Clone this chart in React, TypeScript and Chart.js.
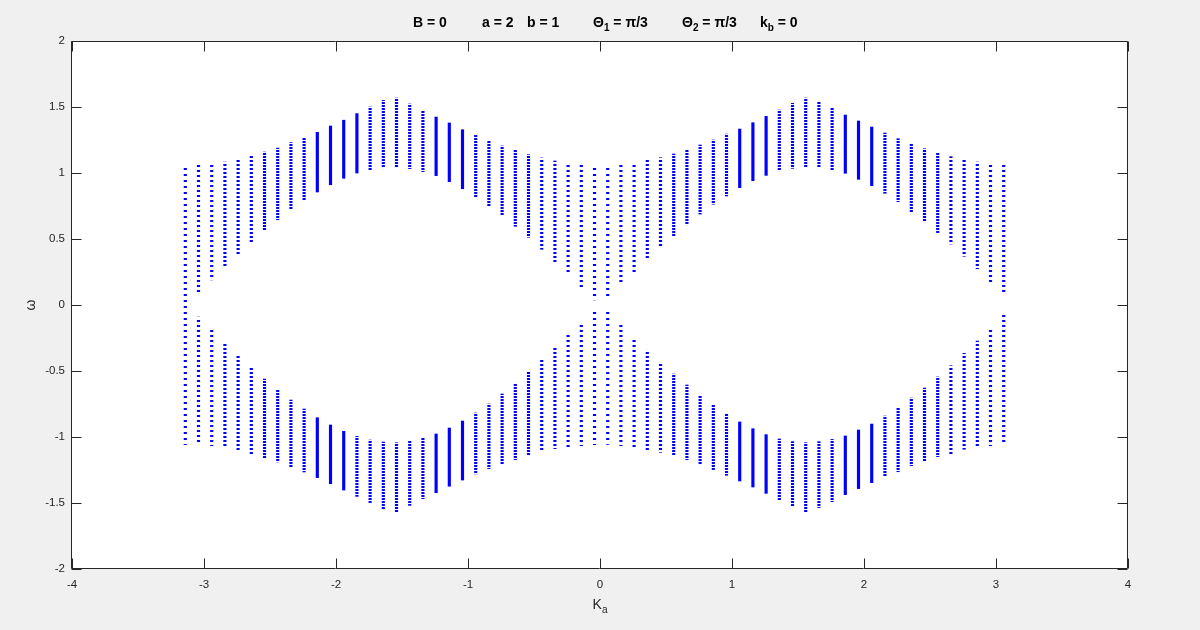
import React, { useEffect, useRef } from "react";
import { Chart, registerables } from "chart.js";

Chart.register(...registerables);

// K_a sample positions (one column of eigenvalues per K_a)
const K_VALUES = [
  -3.1416, -3.0416, -2.9416, -2.8416, -2.7416, -2.6416, -2.5416, -2.4416, -2.3416, -2.2416,
  -2.1416, -2.0416, -1.9416, -1.8416, -1.7416, -1.6416, -1.5416, -1.4416, -1.3416, -1.2416,
  -1.1416, -1.0416, -0.9416, -0.8416, -0.7416, -0.6416, -0.5416, -0.4416, -0.3416, -0.2416,
  -0.1416, -0.0416, 0.0584, 0.1584, 0.2584, 0.3584, 0.4584, 0.5584, 0.6584, 0.7584,
  0.8584, 0.9584, 1.0584, 1.1584, 1.2584, 1.3584, 1.4584, 1.5584, 1.6584, 1.7584,
  1.8584, 1.9584, 2.0584, 2.1584, 2.2584, 2.3584, 2.4584, 2.5584, 2.6584, 2.7584,
  2.8584, 2.9584, 3.0584,
];

// Upper band (omega > 0): lowest and highest value per column
const UPPER_MIN = [
  0.0, 0.096, 0.19, 0.29, 0.384, 0.475, 0.563, 0.646, 0.722, 0.793,
  0.856, 0.911, 0.96, 1.0, 1.025, 1.04, 1.045, 1.033, 1.01, 0.98,
  0.934, 0.881, 0.818, 0.752, 0.677, 0.596, 0.513, 0.422, 0.328, 0.235,
  0.136, 0.038, 0.048, 0.154, 0.252, 0.346, 0.437, 0.525, 0.608, 0.689,
  0.763, 0.826, 0.889, 0.942, 0.982, 1.017, 1.035, 1.043, 1.04, 1.023,
  0.998, 0.952, 0.904, 0.846, 0.783, 0.707, 0.631, 0.548, 0.462, 0.369,
  0.275, 0.177, 0.078,
];
const UPPER_MAX = [
  1.055, 1.06, 1.068, 1.083, 1.106, 1.129, 1.159, 1.189, 1.23, 1.268,
  1.308, 1.356, 1.4, 1.45, 1.5, 1.55, 1.568, 1.523, 1.47, 1.424,
  1.379, 1.328, 1.285, 1.242, 1.205, 1.172, 1.139, 1.114, 1.091, 1.076,
  1.068, 1.06, 1.06, 1.068, 1.076, 1.096, 1.116, 1.144, 1.174, 1.212,
  1.25, 1.295, 1.333, 1.381, 1.429, 1.477, 1.528, 1.568, 1.538, 1.492,
  1.439, 1.394, 1.348, 1.303, 1.26, 1.22, 1.184, 1.152, 1.124, 1.098,
  1.083, 1.068, 1.06,
];

// Lower band (omega < 0): lowest and highest value per column
const LOWER_MIN = [
  -1.058, -1.058, -1.066, -1.081, -1.104, -1.127, -1.157, -1.189, -1.225, -1.265,
  -1.308, -1.354, -1.402, -1.45, -1.497, -1.548, -1.566, -1.518, -1.467, -1.422,
  -1.373, -1.326, -1.28, -1.24, -1.202, -1.172, -1.139, -1.111, -1.088, -1.073,
  -1.066, -1.058, -1.056, -1.066, -1.073, -1.096, -1.116, -1.141, -1.172, -1.21,
  -1.247, -1.29, -1.333, -1.379, -1.427, -1.475, -1.525, -1.568, -1.535, -1.49,
  -1.437, -1.391, -1.346, -1.3, -1.263, -1.217, -1.184, -1.149, -1.127, -1.093,
  -1.081, -1.066, -1.058,
];
const LOWER_MAX = [
  0.0, -0.091, -0.189, -0.288, -0.381, -0.475, -0.561, -0.644, -0.72, -0.788,
  -0.854, -0.909, -0.957, -0.995, -1.023, -1.038, -1.043, -1.033, -1.008, -0.977,
  -0.932, -0.879, -0.818, -0.75, -0.674, -0.593, -0.508, -0.419, -0.326, -0.23,
  -0.134, -0.035, -0.05, -0.152, -0.247, -0.343, -0.434, -0.523, -0.606, -0.687,
  -0.76, -0.826, -0.886, -0.937, -0.982, -1.015, -1.035, -1.043, -1.035, -1.018,
  -0.992, -0.947, -0.902, -0.841, -0.78, -0.705, -0.629, -0.545, -0.46, -0.366,
  -0.273, -0.174, -0.076,
];

const X_TICKS = [-4, -3, -2, -1, 0, 1, 2, 3, 4];
const X_TICK_LABELS = ["-4", "-3", "-2", "-1", "0", "1", "2", "3", "4"];
const Y_TICKS = [-2, -1.5, -1, -0.5, 0, 0.5, 1, 1.5, 2];
const Y_TICK_LABELS = ["-2", "-1.5", "-1", "-0.5", "0", "0.5", "1", "1.5", "2"];

type Part = { t: string; sub?: boolean };
const TITLE_GROUPS: { x: number; parts: Part[] }[] = [
  { x: 413, parts: [{ t: "B = 0" }] },
  { x: 482, parts: [{ t: "a = 2" }] },
  { x: 527, parts: [{ t: "b = 1" }] },
  { x: 593, parts: [{ t: "\u0398" }, { t: "1", sub: true }, { t: " = \u03c0/3" }] },
  { x: 682, parts: [{ t: "\u0398" }, { t: "2", sub: true }, { t: " = \u03c0/3" }] },
  { x: 760, parts: [{ t: "k" }, { t: "b", sub: true }, { t: " = 0" }] },
];
const X_LABEL: Part[] = [{ t: "K" }, { t: "a", sub: true }];
const Y_LABEL = "\u03c9";

const BLUE = "#0000ff";
const AXIS = "#262626";
const FONT = "'Liberation Sans', Arial, Helvetica, sans-serif";

const patternCache = new Map<number, CanvasPattern | string>();
function dotPattern(ctx: CanvasRenderingContext2D, period: number) {
  if (!isFinite(period) || period <= 2) return BLUE;
  const hit = patternCache.get(period);
  if (hit) return hit;
  const c = document.createElement("canvas");
  c.width = 1;
  c.height = period;
  const g = c.getContext("2d")!;
  g.fillStyle = BLUE;
  g.fillRect(0, 0, 1, 2);
  const p = ctx.createPattern(c, "repeat") || BLUE;
  patternCache.set(period, p);
  return p;
}

function drawParts(ctx: CanvasRenderingContext2D, x: number, y: number, parts: Part[], size: number, subSize: number, weight: string) {
  let cx = x;
  for (const p of parts) {
    ctx.font = `${weight} ${p.sub ? subSize : size}px ${FONT}`;
    ctx.fillText(p.t, cx, p.sub ? y + 4 : y);
    cx += ctx.measureText(p.t).width;
  }
  return cx - x;
}

function partsWidth(ctx: CanvasRenderingContext2D, parts: Part[], size: number, subSize: number, weight: string) {
  let w = 0;
  for (const p of parts) {
    ctx.font = `${weight} ${p.sub ? subSize : size}px ${FONT}`;
    w += ctx.measureText(p.t).width;
  }
  return w;
}

const matlabFrame = {
  id: "matlabFrame",
  beforeDraw(chart: any) {
    const { ctx, chartArea: a } = chart;
    ctx.save();
    ctx.fillStyle = "#f0f0f0";
    ctx.fillRect(0, 0, chart.width, chart.height);
    ctx.fillStyle = "#ffffff";
    ctx.fillRect(a.left, a.top, a.right - a.left, a.bottom - a.top);
    ctx.restore();
  },
  afterDatasetsDraw(chart: any) {
    const { ctx, chartArea: a, scales } = chart;
    ctx.save();
    ctx.strokeStyle = AXIS;
    ctx.lineWidth = 1;
    const L = Math.round(a.left) - 0.5;
    const R = Math.round(a.right) - 0.5;
    const T = Math.round(a.top) + 0.5;
    const B = Math.round(a.bottom) - 0.5;
    ctx.beginPath();
    ctx.rect(L, T, R - L, B - T);
    const tl = 10;
    for (const v of X_TICKS) {
      const px = Math.round(scales.x.getPixelForValue(v)) + 0.5;
      ctx.moveTo(px, B);
      ctx.lineTo(px, B - tl);
      ctx.moveTo(px, T);
      ctx.lineTo(px, T + tl);
    }
    for (const v of Y_TICKS) {
      const py = Math.round(scales.y.getPixelForValue(v)) + 0.5;
      ctx.moveTo(L, py);
      ctx.lineTo(L + tl, py);
      ctx.moveTo(R, py);
      ctx.lineTo(R - tl, py);
    }
    ctx.stroke();

    // title
    ctx.fillStyle = "#000000";
    ctx.textAlign = "left";
    ctx.textBaseline = "alphabetic";
    for (const g of TITLE_GROUPS) {
      drawParts(ctx, g.x, 27, g.parts, 14, 10, "bold");
    }
    // x label
    ctx.fillStyle = AXIS;
    const w = partsWidth(ctx, X_LABEL, 14, 10, "normal");
    drawParts(ctx, 600 - w / 2, 609, X_LABEL, 14, 10, "normal");
    // y label
    ctx.save();
    ctx.translate(35, 305);
    ctx.rotate(-Math.PI / 2);
    ctx.font = `normal 14px ${FONT}`;
    ctx.textAlign = "center";
    ctx.fillText(Y_LABEL, 0, 0);
    ctx.restore();
    ctx.restore();
  },
};

function bandColor(c: any) {
  if (c.type !== "data" || !c.raw) return BLUE;
  const ys = c.chart.scales && c.chart.scales.y;
  if (!ys) return BLUE;
  const r = c.raw.y;
  if (!Array.isArray(r)) return BLUE;
  const h = Math.abs(ys.getPixelForValue(r[0]) - ys.getPixelForValue(r[1]));
  return dotPattern(c.chart.ctx, Math.round(h / 24));
}

export default function App() {
  const ref = useRef<HTMLCanvasElement | null>(null);
  useEffect(() => {
    if (!ref.current) return;
    const upper = K_VALUES.map((k, i) => ({ x: k, y: [UPPER_MIN[i], UPPER_MAX[i]] }));
    const lower = K_VALUES.map((k, i) => ({ x: k, y: [LOWER_MIN[i], LOWER_MAX[i]] }));
    const tickFont = { family: FONT, size: 11.5 };
    const chart = new Chart(ref.current, {
      type: "bar",
      data: {
        datasets: [
          { data: upper as any, backgroundColor: bandColor as any, borderWidth: 0, barThickness: 2.5, grouped: false },
          { data: lower as any, backgroundColor: bandColor as any, borderWidth: 0, barThickness: 2.5, grouped: false },
        ],
      },
      options: {
        animation: false,
        responsive: false,
        devicePixelRatio: 1,
        layout: { padding: { left: 32, right: 72, top: 41, bottom: 31 } },
        plugins: { legend: { display: false }, title: { display: false }, tooltip: { enabled: false } },
        scales: {
          x: {
            type: "linear",
            min: -4,
            max: 4,
            offset: false,
            grid: { display: false, offset: false, drawTicks: false },
            border: { display: false },
            ticks: {
              font: tickFont,
              color: AXIS,
              padding: 9,
              maxRotation: 0,
              autoSkip: false,
              callback: (v: any) => X_TICK_LABELS[X_TICKS.indexOf(Number(v))] ?? "",
            },
            afterBuildTicks: (s: any) => {
              s.ticks = X_TICKS.map((v) => ({ value: v }));
            },
            afterFit: (s: any) => {
              s.height = 30;
            },
          },
          y: {
            type: "linear",
            min: -2,
            max: 2,
            grid: { display: false, drawTicks: false },
            border: { display: false },
            ticks: {
              font: tickFont,
              color: AXIS,
              padding: 7,
              autoSkip: false,
              callback: (v: any) => Y_TICK_LABELS[Y_TICKS.indexOf(Number(v))] ?? "",
            },
            afterBuildTicks: (s: any) => {
              s.ticks = Y_TICKS.map((v) => ({ value: v }));
            },
            afterFit: (s: any) => {
              s.width = 40;
            },
          },
        },
      } as any,
      plugins: [matlabFrame],
    });
    return () => chart.destroy();
  }, []);
  return (
    <div style={{ position: "fixed", left: 0, top: 0, width: 1200, height: 630, background: "#f0f0f0" }}>
      <canvas ref={ref} width={1200} height={630} style={{ display: "block" }} />
    </div>
  );
}
